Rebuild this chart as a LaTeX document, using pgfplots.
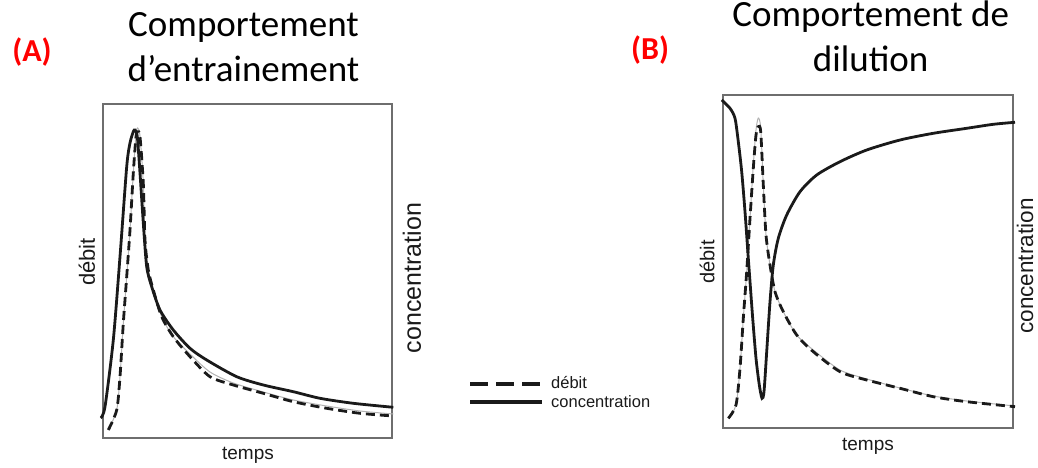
\documentclass[border=0pt]{standalone}
\usepackage{pgfplots}
\pgfplotsset{compat=1.18}
\usepackage{fontspec}
\setmainfont{Liberation Sans}
\newfontfamily\titlefont{Carlito}
\definecolor{frame}{HTML}{6E6E6E}
\definecolor{ink}{HTML}{1A1A1A}
\definecolor{redlab}{HTML}{FF0000}
\pgfplotsset{
  panel/.style={scale only axis, clip=false, xtick=\empty, ytick=\empty,
    y dir=reverse, axis line style={frame, line width=1.3pt}},
  conc/.style={ink, line width=2.8pt, smooth, tension=0.45},
  deb/.style={ink, line width=2.8pt, dash pattern=on 9pt off 5pt, smooth, tension=0.45},
  debgray/.style={black!30, line width=1pt, smooth, tension=0.45},
}
\begin{document}
\begin{tikzpicture}[x=1pt,y=1pt]
\useasboundingbox (0,0) rectangle (1038,468);
% Panel A
\begin{axis}[panel, width=289pt, height=334pt, at={(103pt,30pt)}, anchor=south west,
  xmin=103, xmax=392, ymin=104, ymax=438]
\addplot[debgray] coordinates {(108.3,430) (116.7,410) (120,376.7) (123.3,323.3) (126.7,276.7) (130,230) (133.3,173) (136,134) (137.7,128) (140,136) (143.3,183.3) (145,240) (148.3,270) (153.3,290) (161.7,316.7) (173.3,336.7) (190,354) (210,372) (233.3,383) (263.3,392) (293.3,400) (326.7,406) (360,411) (393.3,414)};
\addplot[deb] coordinates {(108.3,430) (116.7,410) (120,376.7) (123.3,323.3) (126.7,276.7) (130,230) (133.3,173) (136,136.7) (137.7,131.7) (140,136.7) (143.3,183.3) (145,240) (148.3,270) (153.3,290) (161.7,316.7) (173.3,336.7) (190,356.7) (210,376.7) (233.3,385) (263.3,393.3) (293.3,401.7) (326.7,408.3) (360,413.3) (393.3,416)};
\addplot[conc] coordinates {(100.7,418) (105,406.7) (113.3,340) (120,256.7) (126.7,166.7) (130,143) (133.3,131.7) (135,130) (137.3,136.7) (140,173) (143.3,223) (146.7,266.7) (151.7,286.7) (160,310) (173.3,330) (190,348.3) (206.7,360) (236.7,376.7) (263.3,385) (293.3,391.7) (320,398.3) (353.3,403.3) (393.3,407.3)};
\end{axis}
% Panel B
\begin{axis}[panel, width=290pt, height=333pt, at={(723pt,40pt)}, anchor=south west,
  xmin=723, xmax=1013, ymin=95, ymax=428]
\addplot[debgray] coordinates {(728.3,418.3) (736,405) (740,368.3) (743.3,318.3) (746.7,271.7) (750,218.3) (753.3,165) (756,130) (758.3,118) (760.7,128) (763.3,185) (766,235) (770,265) (775,291.7) (783.3,311.7) (796.7,335) (813.3,350) (840,370) (866.7,379) (900,388) (933.3,396) (966.7,401) (1015,406)};
\addplot[deb] coordinates {(728.3,418.3) (736,405) (740,368.3) (743.3,318.3) (746.7,271.7) (750,218.3) (753.3,168.3) (756,135) (758.3,126.7) (760.7,131.7) (763.3,185) (766,235) (770,265) (775,291.7) (783.3,311.7) (796.7,335) (813.3,351.7) (840,371.7) (866.7,380) (900,388.3) (933.3,396.7) (966.7,401.7) (1015,406.7)};
\addplot[conc] coordinates {(721.7,100) (730,108.3) (735,118.3) (738.3,141.7) (741.7,171.7) (745,211.7) (748.3,258.3) (750,281.7) (752.7,318.3) (756,358.3) (759.3,385) (762,398.3) (764,391.7) (766.7,351.7) (770,301.7) (773.3,265) (778.3,238.3) (786.7,215) (800,191.7) (816.7,175) (840,161.7) (866.7,150) (900,140) (933.3,133.3) (966.7,128.3) (993.3,124.3) (1015,122.3)};
\end{axis}
% Titles
\node[anchor=base, font=\titlefont\fontsize{37}{45}\selectfont] at (243.5,431) {Comportement};
\node[anchor=base, font=\titlefont\fontsize{37}{45}\selectfont] at (243.5,386) {d’entrainement};
\node[anchor=base, font=\titlefont\fontsize{37}{45}\selectfont] at (870.7,441) {Comportement de};
\node[anchor=base, font=\titlefont\fontsize{37}{45}\selectfont] at (870.7,396) {dilution};
\node[font=\titlefont\bfseries\fontsize{32}{38}\selectfont, text=redlab] at (32,416) {(A)};
\node[font=\titlefont\bfseries\fontsize{32}{38}\selectfont, text=redlab] at (650,418) {(B)};
% Axis labels
\node[rotate=90, text=ink, font=\fontsize{22}{26}\selectfont] at (87,206) {débit};
\node[rotate=90, text=ink, font=\fontsize{25}{30}\selectfont] at (412,190) {concentration};
\node[text=ink, font=\fontsize{19}{23}\selectfont] at (248,13) {temps};
\node[rotate=90, text=ink, font=\fontsize{20}{24}\selectfont] at (707,206) {débit};
\node[rotate=90, text=ink, font=\fontsize{22.5}{27}\selectfont] at (1025,202) {concentration};
\node[text=ink, font=\fontsize{19}{23}\selectfont] at (868,22) {temps};
% Legend
\draw[ink, line width=4pt, dash pattern=on 18pt off 8pt] (470,84) -- (542,84);
\draw[ink, line width=3.5pt] (470,66) -- (542,66);
\node[anchor=mid west, inner sep=0pt, text=ink, font=\fontsize{16.5}{19}\selectfont] at (551,82) {débit};
\node[anchor=mid west, inner sep=0pt, text=ink, font=\fontsize{16.5}{19}\selectfont] at (551,63) {concentration};
\end{tikzpicture}
\end{document}
